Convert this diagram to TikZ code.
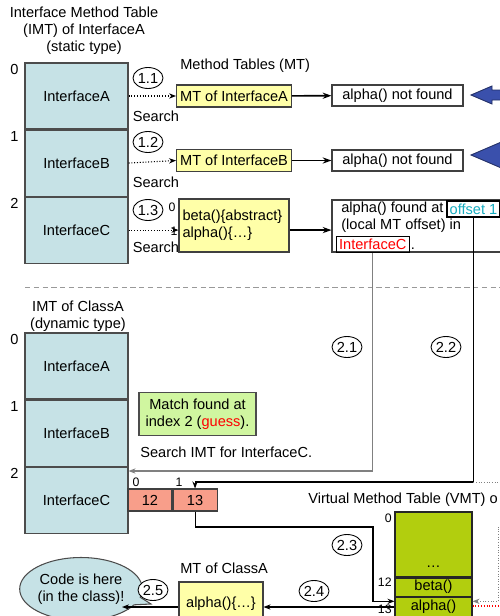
\documentclass[tikz,border=0pt]{standalone}
\usepackage{fontspec}
\setmainfont{Liberation Sans}
\usetikzlibrary{positioning,shapes.geometric,shapes.callouts,arrows.meta}

\definecolor{imtblue}{RGB}{198,226,230}
\definecolor{mtyellow}{RGB}{255,255,168}
\definecolor{matchgreen}{RGB}{208,246,160}
\definecolor{cellred}{RGB}{248,158,138}
\definecolor{vmtgreen}{RGB}{178,206,14}
\definecolor{offcyan}{RGB}{22,172,192}
\definecolor{arrowblue}{RGB}{58,80,172}

\begin{document}
\begin{tikzpicture}[x=0.02cm, y=-0.02cm, font=\fontsize{8.3}{9.8}\selectfont]
    \useasboundingbox (0,0) rectangle (500,616);
    \clip (0,0) rectangle (500,616);

    % Styles of the boxes and lines
    \tikzset{
        c_imt/.style={draw=black!70, fill=imtblue, line width=0.6pt, minimum width=2.06cm, minimum height=1.32cm, inner sep=0pt},
        c_mt/.style={draw=black!75, fill=mtyellow, line width=0.6pt, minimum width=2.2cm, minimum height=0.44cm, inner sep=2pt},
        c_res/.style={draw=black!75, fill=white, line width=0.6pt, minimum width=2.62cm, minimum height=0.42cm, inner sep=1pt},
        c_cell/.style={draw=black!75, fill=cellred, line width=0.6pt, minimum width=0.88cm, minimum height=0.44cm, inner sep=0pt},
        c_vmt/.style={draw=black!85, fill=vmtgreen, line width=0.6pt, minimum width=1.54cm, inner sep=0pt},
        c_step/.style={ellipse, draw, fill=white, line width=0.5pt, minimum width=0.6cm, minimum height=0.42cm, inner sep=0pt},
        c_idx/.style={inner sep=0pt},
        c_small/.style={inner sep=0pt, font=\fontsize{7}{8}\selectfont},
        c_arrow/.style={line width=0.9pt, -{Stealth[length=5pt, width=3.5pt]}},
        c_line/.style={line width=0.6pt, -{Stealth[length=4pt, width=3pt]}},
        c_search/.style={line width=0.6pt, densely dotted, -{Stealth[length=4pt, width=3pt]}},
        c_dots/.style={line width=0.5pt, gray, densely dotted}
    }

    % IMT of InterfaceA (static type)
    \node[align=center, inner sep=0pt] (sTitle) at (84,31) {Interface Method Table\\(IMT) of InterfaceA\\(static type)};
    \node[c_imt] (sA) at (76.5,96) {InterfaceA};
    \node[c_imt, below=0pt of sA] (sB) {InterfaceB};
    \node[c_imt, below=0pt of sB] (sC) {InterfaceC};
    \foreach \n/\r in {0/sA, 1/sB, 2/sC} {
        \node[c_idx] at ([shift={(-10,7)}]\r.north west) {\n};
    }

    % Method tables
    \node[anchor=west, inner sep=0pt] (mtTitle) at (180,66) {Method Tables (MT)};
    \node[c_mt] (mtA) at (234,96) {MT of InterfaceA};
    \node[c_mt] (mtB) at (234,160.5) {MT of InterfaceB};
    \node[c_mt, minimum height=1.06cm, text width=2.2cm-4pt, align=left] (mtC) at (234,225.5) {beta()\{abstract\}\\alpha()\{…\}};
    \node[c_small] (mtC0) at (172,207) {0};
    \node[c_small] (mtC1) at (174,231) {1};

    % Search steps 1.x
    \foreach \n/\t/\y in {a/1.1/78, b/1.2/142, c/1.3/210} {
        \node[c_step] (st\n) at (148,\y) {\t};
    }
    \node[inner sep=0pt] (srA) at (156,116) {Search};
    \node[inner sep=0pt] (srB) at (156,182) {Search};
    \node[inner sep=0pt] (srC) at (156,247) {Search};
    \draw[c_search] (sA.east) -- (mtA.west);
    \draw[c_search] (sB.east) -- (mtB.west);
    \draw[c_search] (sC.east) -- (sC.east -| mtC.west);

    % Results of the search
    \node[c_res] (nfA) at (397.5,95.5) {alpha() not found};
    \node[c_res] (nfB) at (397.5,160.5) {alpha() not found};
    \node[c_res, minimum width=3.8cm, minimum height=1.04cm] (fnd) at (427,226) {};
    \node[anchor=west, inner sep=0pt] (fl1) at (341,209) {alpha() found at};
    \node[draw, text=offcyan, inner sep=1.5pt, line width=0.6pt, right=1.5pt of fl1] (off) {offset 1};
    \node[anchor=west, inner sep=0pt] (fl2) at (341,226) {(local MT offset) in};
    \node[draw, text=red, inner sep=1.5pt, line width=0.6pt, anchor=west] (ifc) at (336,244.5) {InterfaceC};
    \node[anchor=base west, inner sep=0pt] (fdot) at ([xshift=0.5pt]ifc.base east) {.};
    \draw[c_arrow] (mtA) -- (nfA);
    \draw[c_arrow] (mtB) -- (nfB);
    \draw[c_arrow] (sC.east -| mtC.east) -- (sC.east -| fnd.west);

    % Blue arrows at the right edge
    \filldraw[fill=arrowblue, draw=arrowblue!60!black, line width=0.5pt] (471,95) -- (492,86) -- (492,90) -- (520,90) -- (520,100) -- (492,100) -- (492,104) -- cycle;
    \filldraw[fill=arrowblue, draw=arrowblue!60!black, line width=0.5pt] (471,155) -- (506,140) -- (506,170) -- cycle;

    \draw[gray!80, densely dashed, line width=0.4pt] (25,287) -- (500,287);

    % IMT of ClassA (dynamic type)
    \node[align=center, inner sep=0pt] (dTitle) at (78,316) {IMT of ClassA\\(dynamic type)};
    \node[c_imt] (dA) at (76.5,366) {InterfaceA};
    \node[c_imt, below=0pt of dA] (dB) {InterfaceB};
    \node[c_imt, below=0pt of dB] (dC) {InterfaceC};
    \foreach \n/\r in {0/dA, 1/dB, 2/dC} {
        \node[c_idx] at ([shift={(-10,7)}]\r.north west) {\n};
    }
    \node[draw=black!70, fill=matchgreen, line width=0.6pt, minimum width=2.34cm, minimum height=0.8cm, align=center] (match) at (197.5,414) {Match found at\\index 2 (\textcolor{red}{guess}).};
    \node[anchor=west, inner sep=0pt] (srD) at (140,452) {Search IMT for InterfaceC.};

    % Offset cells of InterfaceC
    \node[c_cell] (c12) at (150,500) {12};
    \node[c_cell, right=0pt of c12] (c13) {13};
    \node[c_small] (c12i) at (136,482) {0};
    \node[c_small] (c13i) at (179,482) {1};

    % Virtual method table
    \node[anchor=west, inner sep=0pt] (vTitle) at (308,500) {Virtual Method Table (VMT) o};
    \node[c_vmt, minimum height=1.3cm] (vTop) at (433.5,544.5) {};
    \node[c_vmt, minimum height=0.36cm, below=0pt of vTop] (vBe) {beta()};
    \node[c_vmt, minimum height=0.38cm, below=0pt of vBe] (vAl) {alpha()};
    \node[inner sep=0pt] (vDots) at ([yshift=6pt]vTop.south) {…};
    \node[c_small, anchor=east] (v0) at (392,518) {0};
    \node[c_small, anchor=east] (v12) at (392,582) {12};
    \node[c_small, anchor=east] (v13) at (392,609) {13};

    % MT of ClassA and the speech bubble
    \node[anchor=west, inner sep=0pt] (mtCAt) at (180,568) {MT of ClassA};
    \node[c_mt, minimum width=1.68cm, minimum height=0.86cm] (mtCA) at (221,603.5) {alpha()\{…\}};
    \node[ellipse callout, draw=black!70, fill=imtblue, line width=0.6pt, minimum width=2.24cm, minimum height=1.26cm, callout absolute pointer={(151,604)}, align=center, inner sep=0pt] (bubble) at (81,589) {Code is here\\(in the class)!};

    % Steps 2.x
    \foreach \n/\t/\x/\y in {a/2.1/347/347, b/2.2/446/347, c/2.3/347/545, d/2.4/314/591, e/2.5/153/590} {
        \node[c_step] (sd\n) at (\x,\y) {\t};
    }

    % Connectors of the steps 2.x
    \coordinate (k21) at (373,471);
    \coordinate (k22) at (0,482);
    \coordinate (k23) at (373,527);
    \coordinate (k24) at (0,607);
    \coordinate (k25) at (122,607);
    \coordinate (kR1) at (520,482);
    \coordinate (kR2) at (520,527);
    \coordinate (kR3) at (498,527);
    \coordinate (kR4) at (520,606);
    \draw[c_line, draw=gray] (ifc.south) |- (dC.east |- k21);
    \draw[c_line] (off.south) |- (c13.north |- k22) -- (c13.north);
    \draw[c_dots] (off.south |- k22) -- (kR1);
    \draw[c_line] (c13.south) |- (k23) |- ([yshift=3pt]vAl.west);
    \draw[c_dots, -{Stealth[length=4pt, width=3pt]}] (kR2) -- (kR3) |- ([yshift=3pt]vAl.east);
    \draw[red, densely dotted, line width=0.6pt] (vAl.east |- kR4) -- (kR4);
    \draw[c_line] (vAl.west |- k24) -- (mtCA.east |- k24);
    \draw[c_line] (mtCA.west |- k24) -- (k25);
\end{tikzpicture}
\end{document}
